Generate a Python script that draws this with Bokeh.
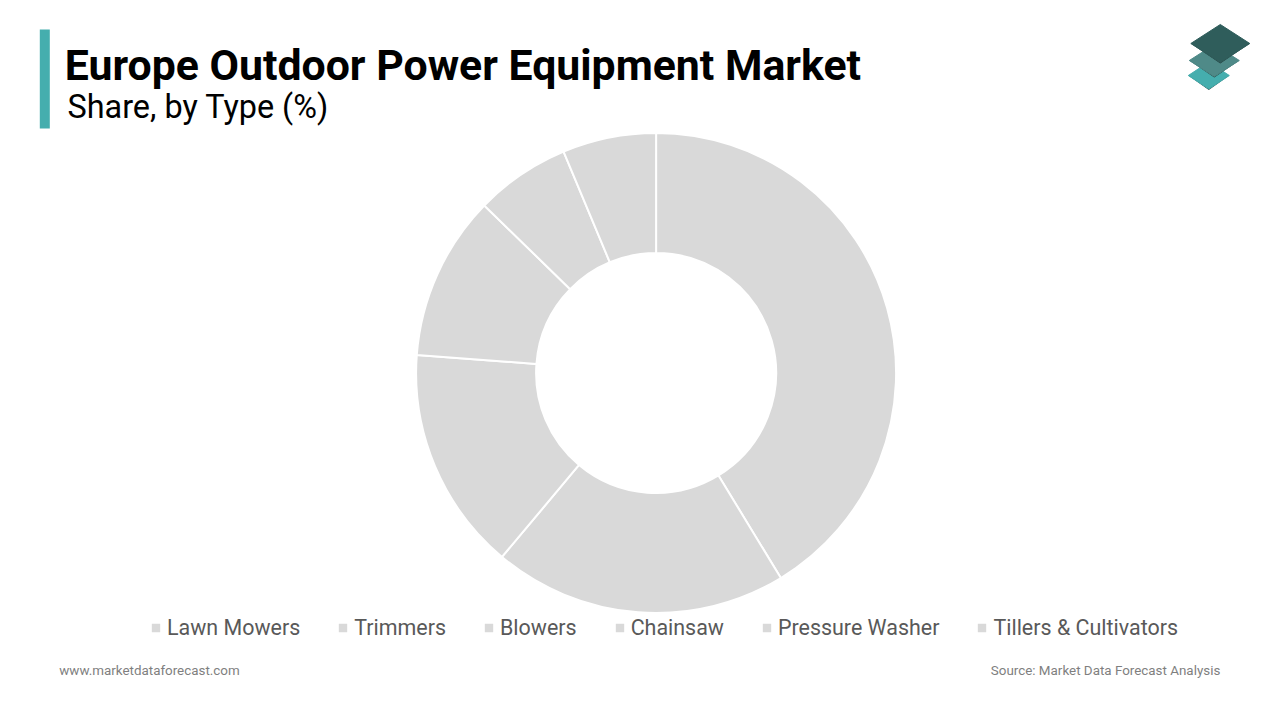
import numpy as np

from bokeh.core.properties import value
from bokeh.embed import file_html
from bokeh.models import ColumnDataSource, Legend, LegendItem
from bokeh.plotting import figure
from bokeh.resources import INLINE

title = "Europe Outdoor Power Equipment Market"
subtitle = "Share, by Type (%)"
site = "www.marketdataforecast.com"
source_note = "Source: Market Data Forecast Analysis"

types = ["Lawn Mowers", "Trimmers", "Blowers", "Chainsaw", "Pressure Washer", "Tillers & Cultivators"]
shares = [41.3, 19.8, 15.1, 11.1, 6.4, 6.3]

# figure units are page pixels, y runs downwards
p = figure(width=1264, height=704, x_range=(0.7, 1264.7), y_range=(704, 0),
           output_backend="svg", toolbar_location=None, min_border=0,
           outline_line_color=None)
p.axis.visible = False
p.grid.visible = False

# title block
p.quad(left=[40], right=[50], top=[29], bottom=[128], fill_color="#45aeae", line_color=None)
p.text([65], [64], text=[title], text_font=value("Roboto"), text_font_style="bold",
       text_font_size="42.8px", text_color="#000000", text_baseline="middle")
p.text([67.7], [106], text=[subtitle], text_font=value("Roboto"),
       text_font_size="32.4px", text_color="#000000", text_baseline="middle")

# logo, bottom layer first
for cx, cy, w, h, col in [(1209, 75, 20.5, 13.5, "#45aeae"),
                          (1214.5, 60, 25, 16, "#4f8a88"),
                          (1220.5, 43, 29.5, 19, "#2f5d5b")]:
    p.patch([cx - w, cx, cx + w], [cy, cy + h + 1, cy], fill_color="#26413f", line_color=None)
    p.patch([cx - w, cx, cx + w, cx], [cy, cy - h, cy, cy + h], fill_color=col, line_color=col,
            line_width=1, line_join="round")

# donut, clockwise from twelve o'clock
frac = np.cumsum([0] + shares) / sum(shares)
angles = np.pi / 2 - frac * 2 * np.pi
src = ColumnDataSource(dict(x=[656.3] * len(types), y=[372.5] * len(types),
                            start=angles[1:], end=angles[:-1], type=types))
wedges = p.annular_wedge("x", "y", inner_radius=120, outer_radius=240,
                         start_angle="start", end_angle="end", source=src,
                         fill_color="#d9d9d9", line_color="white", line_width=2)

legend = Legend(items=[LegendItem(label=t, renderers=[wedges], index=i) for i, t in enumerate(types)],
                orientation="horizontal", location=(149, 64),
                glyph_width=13, glyph_height=13, label_standoff=5, spacing=36,
                padding=0, margin=0, border_line_color=None, background_fill_color=None,
                label_text_font="Roboto", label_text_font_size="21.45px", label_text_color="#595959")
p.add_layout(legend)

# footer
p.text([59.5], [670], text=[site], text_font=value("Roboto"), text_font_size="13.4px",
       text_color="#7f7f7f", text_baseline="middle")
p.text([1220.5], [670], text=[source_note], text_font=value("Roboto"), text_font_size="13.4px",
       text_color="#7f7f7f", text_align="right", text_baseline="middle")

open("out.html", "w").write(file_html(p, INLINE))
